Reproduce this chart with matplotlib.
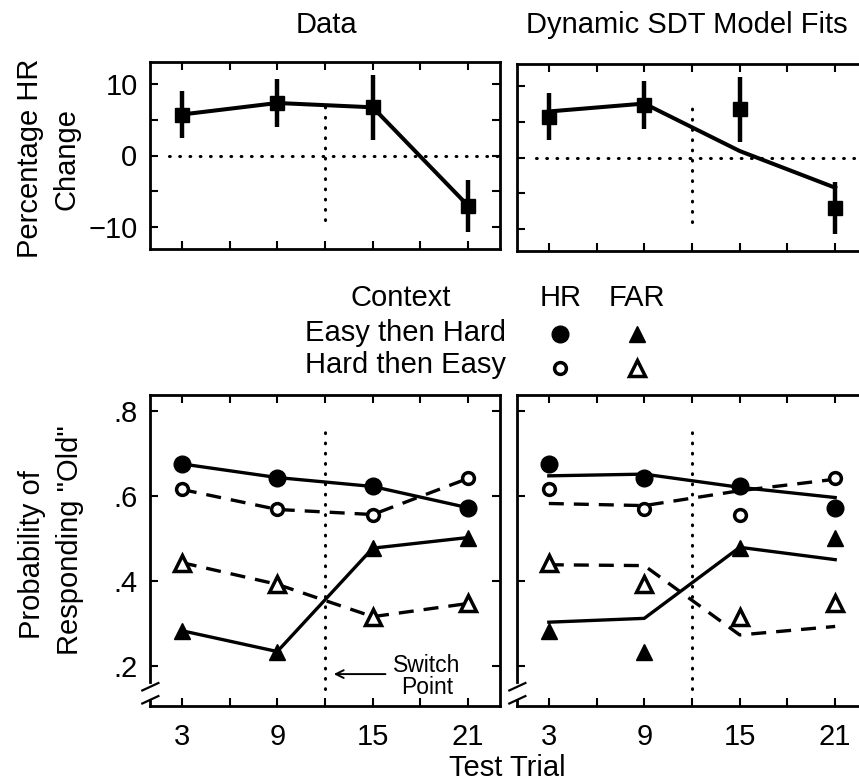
import matplotlib
matplotlib.use('Agg')
import matplotlib.pyplot as plt
from matplotlib.lines import Line2D

plt.rcParams['font.family'] = ['Liberation Sans', 'DejaVu Sans']

# ---------------- data ----------------
trials = [3, 9, 15, 21]
switch_trial = 12

# percentage HR change (data, error, model)
hr_change = [5.7, 7.3, 6.7, -7.0]
hr_change_err = [3.3, 3.35, 4.5, 3.6]
hr_change_model = [6.4, 7.5, 0.9, -4.2]

# probability of responding "old" (data)
hr_easy_hard = [0.675, 0.643, 0.622, 0.572]
hr_hard_easy = [0.615, 0.568, 0.556, 0.641]
far_easy_hard = [0.283, 0.234, 0.477, 0.502]
far_hard_easy = [0.443, 0.392, 0.316, 0.347]

# model fits
model_hr_easy_hard = [0.647, 0.651, 0.620, 0.596]
model_hr_hard_easy = [0.582, 0.577, 0.612, 0.639]
model_far_easy_hard = [0.303, 0.312, 0.479, 0.450]
model_far_hard_easy = [0.438, 0.436, 0.273, 0.293]

x_ticks = [3, 6, 9, 12, 15, 18, 21]
x_ticklabels = ['3', '', '9', '', '15', '', '21']
top_yticks = [-10, -5, 0, 5, 10]
top_yticklabels = ['\u221210', '', '0', '', '10']
bot_yticks = [0.2, 0.4, 0.6, 0.8]
bot_yticklabels = ['.2', '.4', '.6', '.8']

contexts = ['Easy then Hard', 'Hard then Easy']
rate_names = ['HR', 'FAR']

# ---------------- layout ----------------
W, H = 859, 783
fig = plt.figure(figsize=(W / 100, H / 100), dpi=100)


def rect(l, t, w, h):
    return [l / W, 1 - (t + h) / H, w / W, h / H]


FS = 21
XLIM = (1, 23)
TOP_YLIM = (-13, 13)
BOT_YLIM = (0.106, 0.837)

dot_style = dict(color='k', lw=2.2, linestyle=(0, (0.25, 3.1)),
                 dash_capstyle='round')
dash = (0, (4.5, 3.0))

sty = {
    ('Easy then Hard', 'HR'): dict(marker='o', ms=12, mfc='k', mec='k', mew=1),
    ('Hard then Easy', 'HR'): dict(marker='o', ms=8.5, mfc='white', mec='k', mew=2.5),
    ('Easy then Hard', 'FAR'): dict(marker='^', ms=12, mfc='k', mec='k', mew=1),
    ('Hard then Easy', 'FAR'): dict(marker='^', ms=11, mfc='white', mec='k', mew=2.5),
}
line_ls = {'Easy then Hard': '-', 'Hard then Easy': dash}


def style_axes(ax, top, show_ylabels):
    for s in ax.spines.values():
        s.set_linewidth(2)
    ax.set_xlim(*XLIM)
    ax.tick_params(direction='in', top=True, right=True, length=5.5, width=1.5,
                   labelsize=FS, color='k')
    ax.tick_params(axis='x', pad=12)
    ax.tick_params(axis='y', pad=9)
    ax.set_xticks(x_ticks)
    if top:
        ax.set_ylim(*TOP_YLIM)
        ax.set_yticks(top_yticks)
        ax.set_yticklabels(top_yticklabels if show_ylabels else [''] * 5)
        ax.set_xticklabels([''] * len(x_ticks))
    else:
        ax.set_ylim(*BOT_YLIM)
        ax.set_yticks(bot_yticks)
        ax.set_yticklabels(bot_yticklabels if show_ylabels else [''] * 4)
        ax.set_xticklabels(x_ticklabels)
        # broken y axis
        ax.spines['left'].set_visible(False)
        kw = dict(transform=ax.transAxes, color='k', lw=2, clip_on=False)
        ax.add_line(Line2D([0, 0], [0.077, 1], **kw))
        ax.add_line(Line2D([0, 0], [0, 0.02], **kw))
        ax.add_line(Line2D([-0.022, 0.024], [0.050, 0.074], lw=1.6,
                           transform=ax.transAxes, color='k', clip_on=False))
        ax.add_line(Line2D([-0.022, 0.024], [0.008, 0.032], lw=1.6,
                           transform=ax.transAxes, color='k', clip_on=False))


ax_tl = fig.add_axes(rect(150, 62, 350, 187))
ax_tr = fig.add_axes(rect(517, 64, 350, 187))
ax_bl = fig.add_axes(rect(150, 395, 350, 311))
ax_br = fig.add_axes(rect(517, 395, 350, 311))

style_axes(ax_tl, True, True)
style_axes(ax_tr, True, False)
style_axes(ax_bl, False, True)
style_axes(ax_br, False, False)

# ---- top panels ----
for ax in (ax_tl, ax_tr):
    ax.axhline(0, xmin=(2.2 - XLIM[0]) / (XLIM[1] - XLIM[0]), xmax=1, **dot_style)
    ax.axvline(switch_trial, ymin=(-9 - TOP_YLIM[0]) / 26, ymax=(8 - TOP_YLIM[0]) / 26,
               **dot_style)

ax_tl.errorbar(trials, hr_change, yerr=hr_change_err, fmt='s-', color='k', ms=10,
               lw=2.9, elinewidth=3.2, capsize=0, zorder=3)
ax_tr.errorbar(trials, hr_change, yerr=hr_change_err, fmt='s', color='k', ms=10,
               elinewidth=3.2, capsize=0, zorder=3)
ax_tr.plot(trials, hr_change_model, '-', color='k', lw=2.9, zorder=2)

# ---- bottom panels ----
data_series = {
    ('Easy then Hard', 'HR'): hr_easy_hard,
    ('Hard then Easy', 'HR'): hr_hard_easy,
    ('Easy then Hard', 'FAR'): far_easy_hard,
    ('Hard then Easy', 'FAR'): far_hard_easy,
}
model_series = {
    ('Easy then Hard', 'HR'): model_hr_easy_hard,
    ('Hard then Easy', 'HR'): model_hr_hard_easy,
    ('Easy then Hard', 'FAR'): model_far_easy_hard,
    ('Hard then Easy', 'FAR'): model_far_hard_easy,
}

for ax in (ax_bl, ax_br):
    ax.axvline(switch_trial, ymin=(0.145 - BOT_YLIM[0]) / (BOT_YLIM[1] - BOT_YLIM[0]),
               ymax=(0.766 - BOT_YLIM[0]) / (BOT_YLIM[1] - BOT_YLIM[0]), **dot_style)

for key, vals in data_series.items():
    ctx, rate = key
    ax_bl.plot(trials, vals, color='k', lw=2.4, linestyle=line_ls[ctx], zorder=2)
    ax_bl.plot(trials, vals, linestyle='none', zorder=3, **sty[key])
    ax_br.plot(trials, vals, linestyle='none', zorder=3, **sty[key])

for key, vals in model_series.items():
    ctx, rate = key
    ax_br.plot(trials, vals, color='k', lw=2.4, linestyle=line_ls[ctx], zorder=2)

# switch point annotation
ax_bl.annotate('', xy=(12.55, 0.181), xytext=(15.8, 0.181),
               arrowprops=dict(arrowstyle='->', lw=1.4, color='k', mutation_scale=14,
                               shrinkA=0, shrinkB=0))
ax_bl.text(18.4, 0.176, 'Switch\nPoint', fontsize=16.5, ha='center', va='center',
           linespacing=0.95)

# ---- titles & labels ----
fig.text(326.5 / W, 1 - 33 / H, 'Data', fontsize=FS, ha='center', va='baseline')
fig.text(687 / W, 1 - 33 / H, 'Dynamic SDT Model Fits', fontsize=FS, ha='center',
         va='baseline')
fig.text(507 / W, 1 - 776 / H, 'Test Trial', fontsize=FS, ha='center', va='baseline')

fig.text(30 / W, 1 - 158 / H, 'Percentage HR', fontsize=FS, rotation=90,
         ha='center', va='center')
fig.text(67 / W, 1 - 159 / H, 'Change', fontsize=FS, rotation=90,
         ha='center', va='center')
fig.text(32 / W, 1 - 555 / H, 'Probability of', fontsize=FS, rotation=90,
         ha='center', va='center')
fig.text(70 / W, 1 - 540 / H, 'Responding "Old"', fontsize=FS, rotation=90,
         ha='center', va='center')

# ---- key ----
ax_key = fig.add_axes(rect(290, 275, 380, 110))
ax_key.set_xlim(290, 670)
ax_key.set_ylim(385, 275)
ax_key.axis('off')
col_x = {'HR': 560.5, 'FAR': 637}
row_text_y = {'Easy then Hard': 341, 'Hard then Easy': 373}
row_mark_y = {'Easy then Hard': 334, 'Hard then Easy': 367.5}
ax_key.text(401, 306.5, 'Context', fontsize=FS, ha='center', va='baseline')
for r in rate_names:
    ax_key.text(col_x[r], 306.5, r, fontsize=FS, ha='center', va='baseline')
for ctx in contexts:
    ax_key.text(305, row_text_y[ctx], ctx, fontsize=FS, ha='left', va='baseline')
    for r in rate_names:
        ax_key.plot([col_x[r]], [row_mark_y[ctx]], linestyle='none', clip_on=False,
                    **sty[(ctx, r)])

fig.savefig('out.png', dpi=100)
